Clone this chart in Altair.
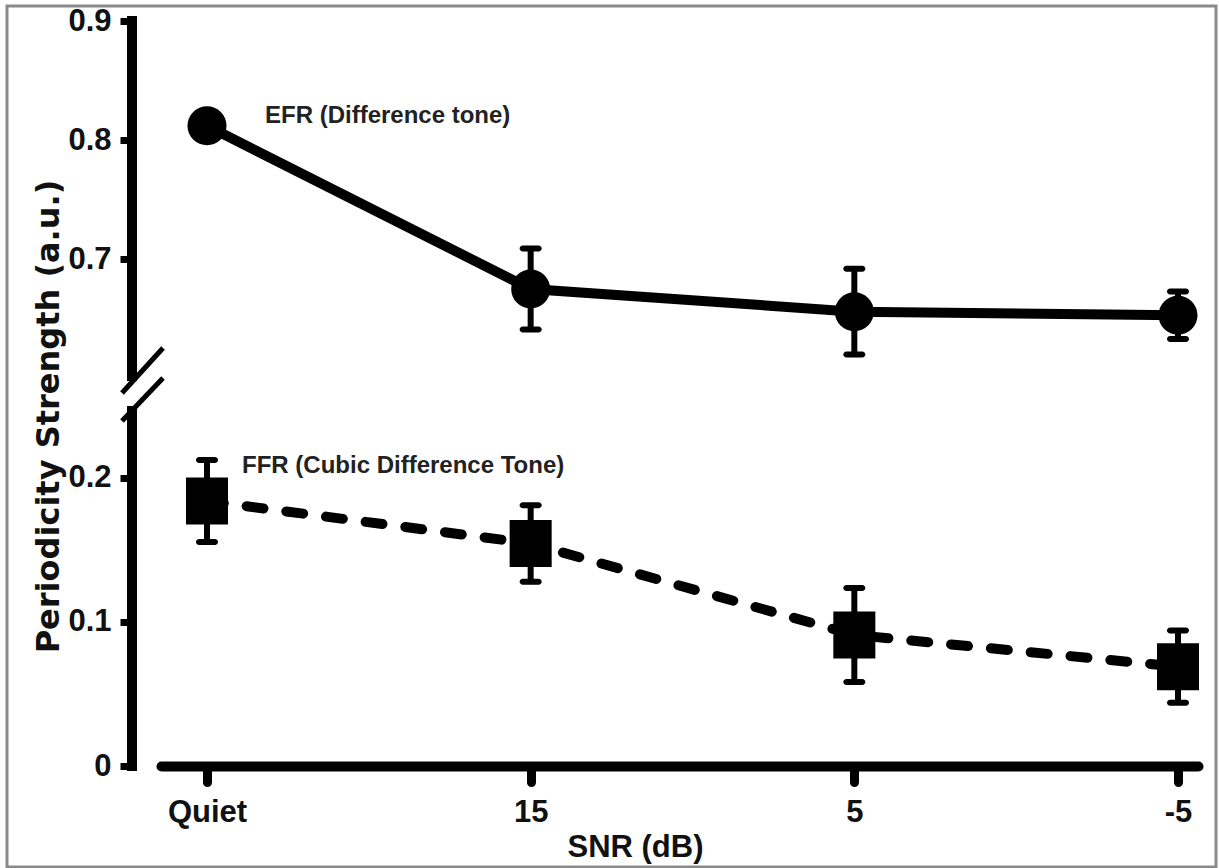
import json
import altair as alt
import pandas as pd

# ---------------- data ----------------
categories = ["Quiet", "15", "5", "-5"]
efr_mean = [0.812, 0.675, 0.656, 0.653]
efr_err = [0.008, 0.034, 0.036, 0.020]
ffr_mean = [0.184, 0.1545, 0.091, 0.069]
ffr_err = [0.0285, 0.0265, 0.0326, 0.025]
series_labels = ["EFR (Difference tone)", "FFR (Cubic Difference Tone)"]
y_tick_values = [0, 0.1, 0.2, 0.7, 0.8, 0.9]
# broken axis: lower and upper segments of the y axis
lower_segment = [0.0, 0.2465]
upper_segment = [0.602, 0.9]

rows = []
for i, c in enumerate(categories):
    rows.append(dict(idx=i, cat=c, series="EFR", mean=efr_mean[i],
                     lo=efr_mean[i] - efr_err[i], hi=efr_mean[i] + efr_err[i]))
    rows.append(dict(idx=i, cat=c, series="FFR", mean=ffr_mean[i],
                     lo=ffr_mean[i] - ffr_err[i], hi=ffr_mean[i] + ffr_err[i]))
df = pd.DataFrame(rows)
efr = df[df.series == "EFR"]
ffr = df[df.series == "FFR"]
lab_df = pd.DataFrame({
    "idx": [0, 0],
    "mean": [efr_mean[0], ffr_mean[0]],
    "label": series_labels,
})
seg_df = pd.DataFrame({"start": [lower_segment[0], upper_segment[0]],
                       "end": [lower_segment[1], upper_segment[1]]})

# ---------------- scales & axes ----------------
FONT = "Liberation Sans"
xscale = alt.Scale(domain=[-0.1421, 3.0618], range=[154, 1191], nice=False, zero=False)
yscale = alt.Scale(domain=[lower_segment[0], lower_segment[1], upper_segment[0], upper_segment[1]],
                   range=[760, 405, 370, 15], nice=False, zero=False, clamp=False)

label_expr = json.dumps(categories) + "[datum.value]"
xaxis = alt.Axis(values=list(range(len(categories))), labelExpr=label_expr,
                 orient="bottom", offset=-101, grid=False,
                 domainColor="black", domainWidth=10, domainCap="round",
                 tickColor="black", tickWidth=9, tickSize=16, tickCap="round",
                 labelFont=FONT, labelFontSize=31, labelFontWeight="bold", labelColor="#111",
                 labelBaseline="alphabetic", labelPadding=39, labelAlign="center",
                 title="SNR (dB)", titleFont=FONT, titleFontSize=31, titleFontWeight="bold",
                 titleColor="#111", titleX=628, titleY=90, titleBaseline="alphabetic",
                 titleAlign="center")
yaxis = alt.Axis(values=y_tick_values, format=".1~f", orient="left", offset=-125, grid=False,
                 domain=False, tickColor="black", tickWidth=7, tickSize=12,
                 labelFont=FONT, labelFontSize=31, labelFontWeight="bold", labelColor="#111",
                 labelPadding=9,
                 title="Periodicity Strength (a.u.)", titleFont="DejaVu Sans", titleFontSize=32,
                 titleFontWeight="bold", titleColor="#111", titleAngle=270,
                 titleX=-84, titleY=410, titleBaseline="middle", titleAlign="center")


def X():
    return alt.X("idx:Q", scale=xscale, axis=xaxis, title="SNR (dB)")


def Y(field):
    return alt.Y(f"{field}:Q", scale=yscale, axis=yaxis, title="Periodicity Strength (a.u.)")


# ---------------- layers ----------------
axis_lines = alt.Chart(seg_df).mark_rule(color="black", strokeWidth=10, strokeCap="square").encode(
    x=alt.value(125), y=Y("start"), y2="end:Q")

one = pd.DataFrame({"k": [0]})
slash1 = alt.Chart(one).mark_rule(color="black", strokeWidth=5).encode(
    x=alt.value(115), y=alt.value(387), x2=alt.value(156), y2=alt.value(342))
slash2 = alt.Chart(one).mark_rule(color="black", strokeWidth=5).encode(
    x=alt.value(115), y=alt.value(415), x2=alt.value(156), y2=alt.value(372))

efr_line = alt.Chart(efr).mark_line(color="black", strokeWidth=10).encode(x=X(), y=Y("mean"))
ffr_line = alt.Chart(ffr).mark_line(color="black", strokeWidth=10, strokeDash=[17, 23],
                                    strokeCap="round").encode(x=X(), y=Y("mean"))

stems = alt.Chart(df).mark_rule(color="black", strokeWidth=6).encode(x=X(), y=Y("lo"), y2="hi:Q")
cap_lo = alt.Chart(df).mark_tick(color="black", orient="horizontal", size=22, thickness=6,
                                 cornerRadius=3, opacity=1).encode(x=X(), y=Y("lo"))
cap_hi = alt.Chart(df).mark_tick(color="black", orient="horizontal", size=22, thickness=6,
                                 cornerRadius=3, opacity=1).encode(x=X(), y=Y("hi"))

efr_pts = alt.Chart(efr).mark_point(shape="circle", filled=True, color="black", opacity=1,
                                    size=1521, strokeWidth=0).encode(x=X(), y=Y("mean"))
ffr_pts = alt.Chart(ffr).mark_point(shape="M-0.894,-1H0.894V1H-0.894Z", filled=True, color="black",
                                    opacity=1, size=2209, strokeWidth=0).encode(x=X(), y=Y("mean"))

efr_lab = alt.Chart(lab_df.iloc[[0]]).mark_text(
    align="left", baseline="alphabetic", dx=58, dy=-3, font=FONT, fontSize=24,
    fontWeight="bold", color="#222").encode(x=X(), y=Y("mean"), text="label:N")
ffr_lab = alt.Chart(lab_df.iloc[[1]]).mark_text(
    align="left", baseline="alphabetic", dx=35, dy=-28, font=FONT, fontSize=24,
    fontWeight="bold", color="#222").encode(x=X(), y=Y("mean"), text="label:N")

chart = alt.layer(
    axis_lines, slash1, slash2, efr_line, ffr_line, stems, cap_lo, cap_hi,
    efr_pts, ffr_pts, efr_lab, ffr_lab,
).properties(
    width=1209, height=861,
    padding={"left": 7, "top": 5, "right": 2, "bottom": 1},
    background="white",
).configure_view(stroke="#8a8a8a", strokeWidth=3)

chart.save("out.html", embed_options={"renderer": "svg", "actions": False})
